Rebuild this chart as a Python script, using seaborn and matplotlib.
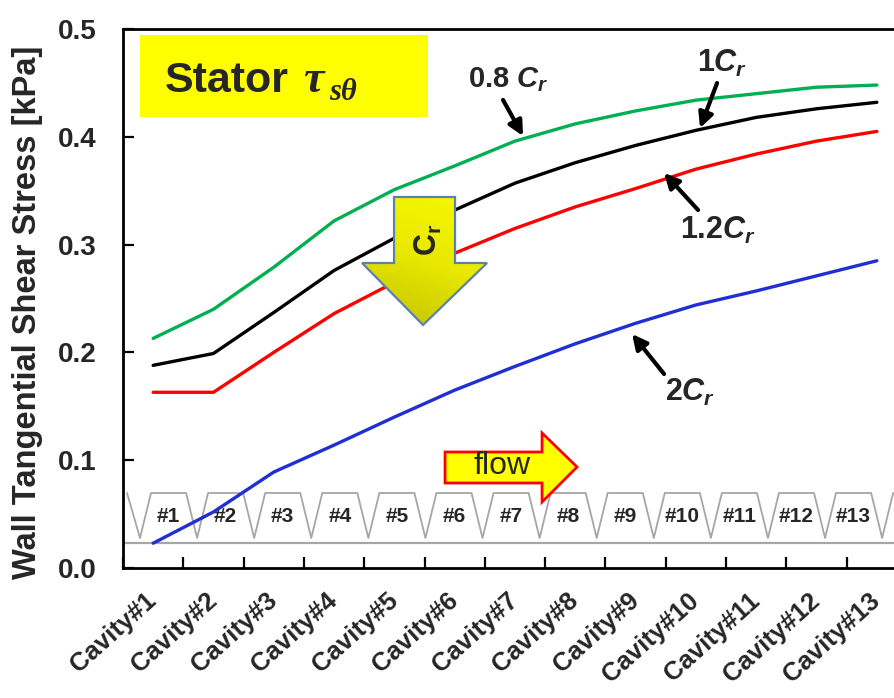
import numpy as np
import pandas as pd
import matplotlib
matplotlib.use("Agg")
import matplotlib.pyplot as plt
import seaborn as sns
from matplotlib.patches import Polygon, Rectangle
from matplotlib.colors import LinearSegmentedColormap

cavities = [f"Cavity#{i}" for i in range(1, 14)]
cases = ["0.8Cr", "1Cr", "1.2Cr", "2Cr"]
tau_08cr = [0.213, 0.240, 0.279, 0.322, 0.351, 0.373, 0.396, 0.412, 0.424, 0.434, 0.440, 0.446, 0.448]
tau_1cr = [0.188, 0.199, 0.237, 0.276, 0.306, 0.332, 0.357, 0.376, 0.392, 0.406, 0.418, 0.426, 0.432]
tau_12cr = [0.163, 0.163, 0.200, 0.236, 0.265, 0.292, 0.315, 0.335, 0.352, 0.370, 0.384, 0.396, 0.405]
tau_2cr = [0.023, 0.052, 0.089, 0.114, 0.140, 0.165, 0.187, 0.208, 0.227, 0.244, 0.257, 0.271, 0.285]
colors = {"0.8Cr": "#00B050", "1Cr": "black", "1.2Cr": "#FF0000", "2Cr": "#1F2FD4"}


def px(x, y):
    # pixel position in the 894x698 picture -> data coords of the axes below
    return (x - 153.15) / 60.3, (568 - y) / 1078


sns.set_style("white")
plt.rcParams["font.family"] = ["Liberation Sans", "DejaVu Sans"]
plt.rcParams["mathtext.fontset"] = "custom"
plt.rcParams["mathtext.it"] = "Liberation Sans:italic:bold"
plt.rcParams["mathtext.rm"] = "Liberation Sans:bold"
plt.rcParams["mathtext.sf"] = "Liberation Sans"

fig = plt.figure(figsize=(8.94, 6.98), dpi=100)
ax = fig.add_axes([123 / 894, 130 / 698, 784 / 894, 539 / 698])

df = pd.DataFrame({
    "pos": list(range(len(cavities))) * len(cases),
    "tau": tau_08cr + tau_1cr + tau_12cr + tau_2cr,
    "case": np.repeat(cases, len(cavities)),
})
sns.lineplot(data=df, x="pos", y="tau", hue="case", hue_order=cases, palette=colors,
             lw=2.4, legend=False, sort=False, ax=ax, zorder=3)

# cavity schematic along the bottom
period = 57.08
vs = [140 + k * period for k in range(14)]
top, bot = 493, 538
xs, ys = [vs[0] - 13], [top]
for k, v in enumerate(vs):
    xs += [v, v + 11]
    ys += [bot, top]
    if k < 13:
        xs.append(vs[k + 1] - 11)
        ys.append(top)
pts = np.array([px(a, b) for a, b in zip(xs, ys)])
ax.plot(pts[:, 0], pts[:, 1], color="#A6A6A6", lw=1.3, zorder=1)
ax.axhline(px(0, 543)[1], color="#A6A6A6", lw=1.6, zorder=1)
for k in range(13):
    cx, cy = px(vs[k] + period / 2, 517)
    ax.text(cx, cy, f"#{k + 1}", ha="center", va="center", fontsize=15,
            fontweight="bold", zorder=2)

# title box
bx0, by0 = px(140, 117)
bx1, by1 = px(428, 35)
ax.add_patch(Rectangle((bx0, by0), bx1 - bx0, by1 - by0, facecolor="#FFFF00",
                       edgecolor="none", zorder=4))
ax.text(*px(165, 92), "Stator", fontsize=31, fontweight="bold", ha="left",
        va="baseline", zorder=5)
ax.text(*px(303, 92), "τ", family="Liberation Serif", style="italic",
        fontweight="bold", fontsize=33, ha="left", va="baseline", zorder=5)
ax.text(*px(329, 100), "sθ", family="Liberation Serif", style="italic",
        fontweight="bold", fontsize=22, ha="left", va="baseline", zorder=5)

# big down arrow (Cr direction) with a gradient fill
arrow_px = [(394, 197), (455, 197), (455, 263), (487, 263), (423, 325), (362, 263), (394, 263)]
arrow = Polygon([px(a, b) for a, b in arrow_px], closed=True, facecolor="none",
                edgecolor="#5B82AE", lw=1.6, zorder=6)
ax.add_patch(arrow)
gx0, gy0 = px(362, 325)
gx1, gy1 = px(487, 197)
gi, gj = np.mgrid[0:1:100j, 0:1:100j]
shade = 0.75 * gi + 0.25 * (1 - gj)
cmap = LinearSegmentedColormap.from_list("yel", ["#F8F800", "#E8E800", "#C0C000"])
im = ax.imshow(shade, cmap=cmap, extent=(gx0, gx1, gy0, gy1), origin="upper",
               aspect="auto", zorder=5)
im.set_clip_path(arrow)
ax.text(*px(428, 240), r"$\mathrm{C_r}$", rotation=90, fontsize=22,
        ha="center", va="center", zorder=7)

# flow arrow
flow_px = [(445, 452), (542, 452), (542, 433), (577, 467), (542, 502), (542, 483), (445, 483)]
ax.add_patch(Polygon([px(a, b) for a, b in flow_px], closed=True, facecolor="#FFFF00",
                     edgecolor="#FF0000", lw=2, zorder=4))
ax.text(*px(502, 466), "flow", fontsize=23, ha="center", va="center", zorder=5)

# case labels with arrows
labels = [
    ("0.8 $C_r$", (508, 80), (503, 100), (523, 136), 21),
    ("1$C_r$", (722, 63), (717, 83), (700, 128), 22),
    ("1.2$C_r$", (718, 230), (698, 210), (664, 173), 22),
    ("2$C_r$", (690, 392), (664, 374), (632, 334), 22),
]
for text, tpos, tail, tip, size in labels:
    ax.text(*px(*tpos), text, fontsize=size, fontweight="bold", ha="center",
            va="center", zorder=7)
    ax.annotate("", xy=px(*tip), xytext=px(*tail),
                arrowprops=dict(arrowstyle="-|>", color="black", lw=3,
                                mutation_scale=22, shrinkA=0, shrinkB=0),
                zorder=7)

ax.set_xlim(-0.5, 12.5)
ax.set_ylim(0, 0.5)
ax.set_xticks(range(len(cavities)))
ax.set_xticklabels(cavities, rotation=42, ha="right", va="center",
                   rotation_mode="anchor", fontsize=18.5, fontweight="bold")
ax.set_xticks(np.arange(-0.5, 13, 1), minor=True)
ax.tick_params(axis="x", which="major", length=0, pad=21, bottom=True)
ax.tick_params(axis="x", which="minor", direction="in", length=8, width=1.6,
               color="black", bottom=True)
ax.set_yticks(np.arange(0, 0.51, 0.1))
ax.set_yticklabels([f"{v:.1f}" for v in np.arange(0, 0.51, 0.1)], fontsize=20,
                   fontweight="bold")
ax.tick_params(axis="y", direction="in", length=8, width=1.6, pad=19, color="black", left=True)
ax.set_xlabel("")
ax.set_ylabel("Wall Tangential Shear Stress [kPa]", fontsize=23.5, fontweight="bold")
ax.yaxis.set_label_coords(-0.102, 0.474)
for side in ["left", "bottom", "top", "right"]:
    ax.spines[side].set_color("black")
    ax.spines[side].set_linewidth(2)

fig.savefig("out.png", dpi=100)
